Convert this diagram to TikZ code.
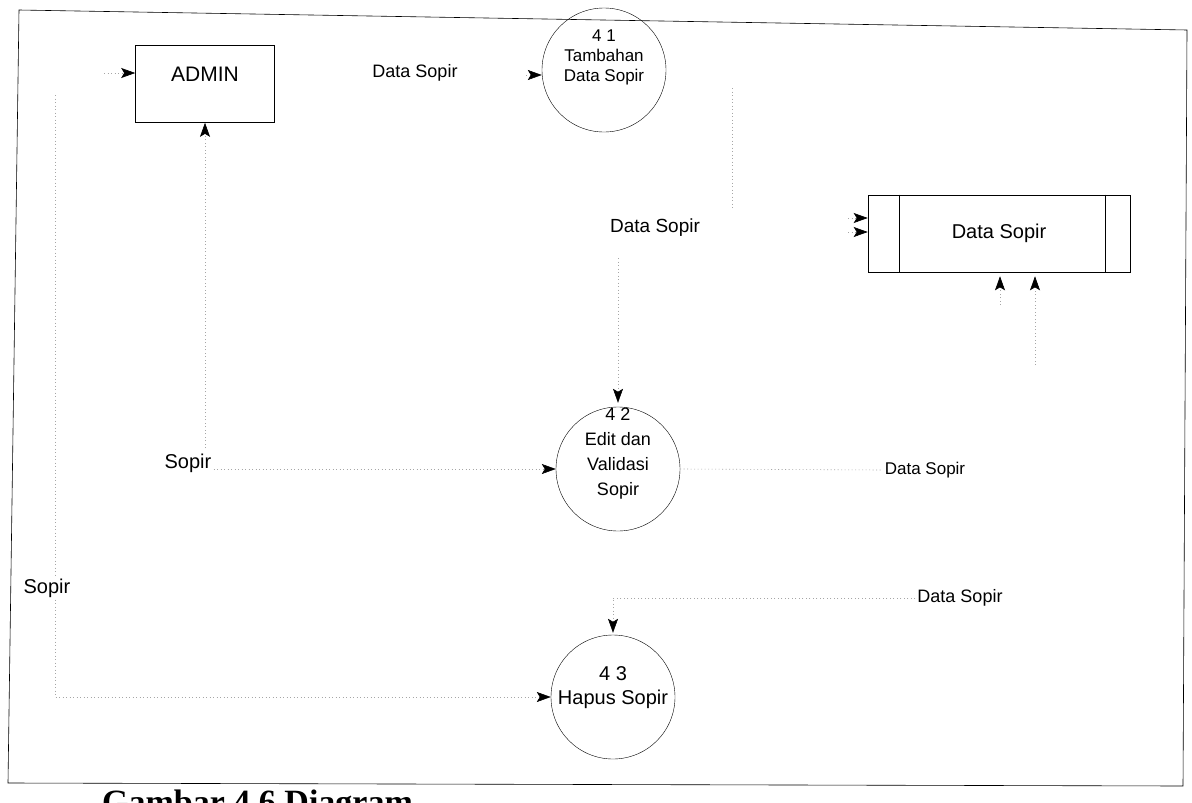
\documentclass[tikz,border=0pt]{standalone}
\usepackage{fontspec}
\setmainfont{Liberation Sans}
\newfontfamily\captionserif{Liberation Serif}
\usetikzlibrary{arrows.meta,positioning}

\begin{document}
\begin{tikzpicture}[x=1pt, y=-1pt, font=\fontsize{19}{22}\selectfont]
\tikzset{
  entity/.style={rectangle, draw=black, semithick, minimum width=139pt, minimum height=77pt},
  proc/.style={circle, draw=black, thin, minimum size=124pt, inner sep=0pt},
  store/.style={rectangle, draw=black, semithick, minimum width=262pt, minimum height=77pt},
  flow/.style={dash pattern=on 1pt off 2.5pt, draw=black!35, line width=0.6pt},
  arr/.style={flow, -{Stealth[color=black, length=14pt, width=10pt, inset=3pt]}},
  lbl/.style={fill=white, inner sep=2pt},
}
\clip (0,0) rectangle (1192,803);
\fill[white] (0,0) rectangle (1192,803);
% frame
\draw[semithick] (19,10) -- (1187,30) -- (1183,786) -- (8,783) -- cycle;

% entity, processes, store
\node[entity, label={[yshift=10pt, font=\fontsize{21}{24}\selectfont]center:ADMIN}] (admin) at (205,84) {};
\node[proc, label={[align=center, yshift=13pt, font=\fontsize{17}{20}\selectfont]center:{4 1\\Tambahan\\Data Sopir}}] (p41) at (604,70) {};
\node[proc, label={[align=center, yshift=15pt, font=\fontsize{18}{25}\selectfont]center:{4 2\\Edit dan\\Validasi\\Sopir}}] (p42) at (618,469) {};
\node[proc, label={[align=center, yshift=9pt, font=\fontsize{20}{24}\selectfont]center:{4 3\\Hapus Sopir}}] (p43) at (613,697) {};
\node[store, font=\fontsize{20}{24}\selectfont] (store) at (999,233.5) {Data Sopir};
\draw[semithick] ([xshift=32pt]store.north west) -- ([xshift=32pt]store.south west);
\draw[semithick] ([xshift=-25pt]store.north east) -- ([xshift=-25pt]store.south east);

% flow labels
\node[lbl, font=\fontsize{18}{22}\selectfont] (dsA) at (415,73) {Data Sopir};
\node[lbl] (dsB) at (655,228) {Data Sopir};
\node[lbl, font=\fontsize{17}{22}\selectfont] (dsC) at (925,470) {Data Sopir};
\node[lbl, font=\fontsize{18}{22}\selectfont] (dsD) at (960,598) {Data Sopir};
\node[lbl, font=\fontsize{20}{22}\selectfont] (sopirA) at (188,463) {Sopir};
\node[lbl, font=\fontsize{20}{22}\selectfont] (sopirB) at (47,588) {Sopir};

% loose ends
\coordinate (inA) at (104,73);
\coordinate (in41) at (526,75);
\coordinate (t41a) at (732,88);
\coordinate (t41b) at (732,210);
\coordinate (in42) at (618,258);
\coordinate (upA) at (205,448);
\coordinate (leftTop) at (55,95);
\coordinate (inS1) at (848,218);
\coordinate (inS2) at (848,232);
\coordinate (upS1) at (1000,305);
\coordinate (upS2) at (1035,365);

% flows
\draw[arr] (inA) -- (inA -| admin.west);
\draw[arr] (in41) -- (in41 -| p41.west);
\draw[flow] (t41a) -- (t41b);
\draw[arr, shorten >=4pt] (in42) -- (p42.north);
\draw[arr] (upA) -- (admin.south);
\draw[arr] (sopirA.east |- p42.west) -- (p42.west);
\draw[flow] (p42.east) -- (dsC.west);
\draw[arr, shorten >=2pt] (dsD.west) -| (p43.north);
\draw[flow] (leftTop) -- (sopirB.north -| leftTop);
\draw[arr] (sopirB.south -| leftTop) |- (p43.west);
\draw[arr] (inS1) -- (inS1 -| store.west);
\draw[arr] (inS2) -- (inS2 -| store.west);
\draw[arr, shorten >=4pt] (upS1) -- (upS1 |- store.south);
\draw[arr, shorten >=4pt] (upS2) -- (upS2 |- store.south);

% caption, cut by the page edge
\node[anchor=base west, inner sep=0pt, font=\captionserif\bfseries\fontsize{34}{38}\selectfont] (cap) at (102,813) {Gambar 4.6 Diagram};
\end{tikzpicture}
\end{document}
